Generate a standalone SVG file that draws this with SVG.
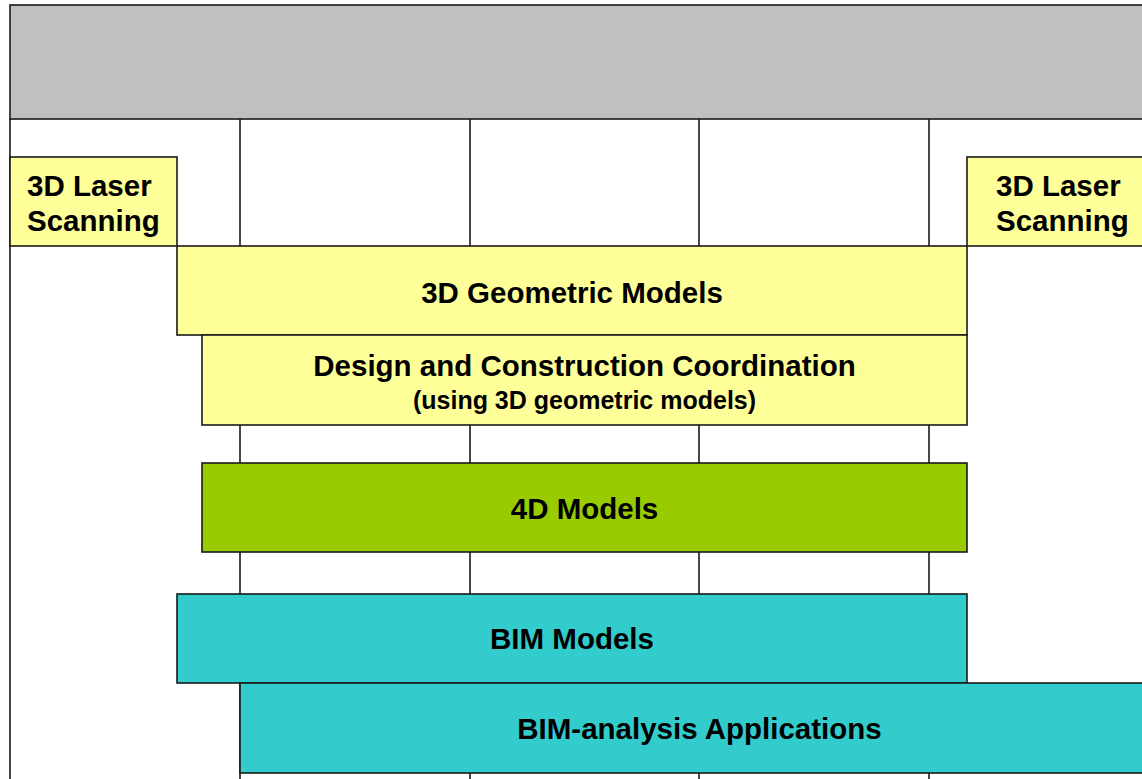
<svg xmlns="http://www.w3.org/2000/svg" width="1142" height="779" viewBox="0 0 1142 779">
<style>
.bx{stroke:#1a1a1a;stroke-width:1.6}
.y{fill:#FFFF99}.g{fill:#99CC00}.t{fill:#33CCCC}.h{fill:#C0C0C0}
.ln{stroke:#1a1a1a;stroke-width:1.6;fill:none}
text{font-family:"Liberation Sans",Arial,sans-serif;font-weight:bold;fill:#000}
.c{text-anchor:middle;font-size:29.5px}
.s{text-anchor:middle;font-size:25px}
.l{font-size:29.5px}
</style>
<rect width="1142" height="779" fill="#fff"/>
<g id="connectors">
<line class="ln" x1="10" y1="119" x2="10" y2="779"/>
<line class="ln" x1="240" y1="119" x2="240" y2="779"/>
<line class="ln" x1="470" y1="119" x2="470" y2="779"/>
<line class="ln" x1="699" y1="119" x2="699" y2="779"/>
<line class="ln" x1="929" y1="119" x2="929" y2="779"/>
</g>
<g id="header"><rect class="bx h" x="10" y="5" width="1140" height="114"/></g>
<g id="laser-left"><rect class="bx y" x="10" y="157" width="167" height="89"/>
<text class="l" x="27" y="196">3D Laser</text><text class="l" x="27" y="231">Scanning</text></g>
<g id="laser-right"><rect class="bx y" x="967" y="157" width="190" height="89"/>
<text class="l" x="996" y="196">3D Laser</text><text class="l" x="996" y="231">Scanning</text></g>
<g id="geom"><rect class="bx y" x="177" y="246" width="790" height="89"/>
<text class="c" x="572" y="303">3D Geometric Models</text></g>
<g id="coord"><rect class="bx y" x="202" y="335" width="765" height="90"/>
<text class="c" x="584.5" y="376">Design and Construction Coordination</text>
<text class="s" x="584.5" y="409">(using 3D geometric models)</text></g>
<g id="m4d"><rect class="bx g" x="202" y="463" width="765" height="89"/>
<text class="c" x="584.5" y="519">4D Models</text></g>
<g id="bim"><rect class="bx t" x="177" y="594" width="790" height="89"/>
<text class="c" x="572" y="649">BIM Models</text></g>
<g id="bima"><rect class="bx t" x="240" y="683" width="920" height="90"/>
<text class="c" x="699.5" y="739">BIM-analysis Applications</text></g>
</svg>
